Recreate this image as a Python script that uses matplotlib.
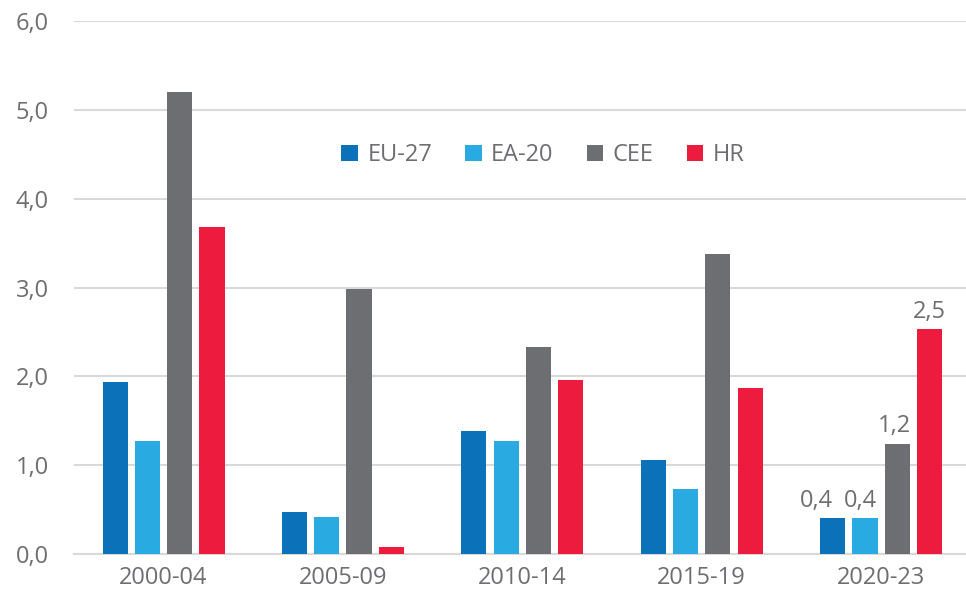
import matplotlib
matplotlib.use("Agg")
import matplotlib.pyplot as plt
import numpy as np

categories = ["2000-04", "2005-09", "2010-14", "2015-19", "2020-23"]
series_names = ["EU-27", "EA-20", "CEE", "HR"]
eu27 = [1.94, 0.47, 1.39, 1.06, 0.40]
ea20 = [1.27, 0.42, 1.27, 0.73, 0.40]
cee = [5.20, 2.98, 2.33, 3.38, 1.24]
hr = [3.68, 0.08, 1.96, 1.87, 2.53]
labels_last = ["0,4", "0,4", "1,2", "2,5"]
yticks = [0, 1, 2, 3, 4, 5, 6]
ytick_labels = ["0,0", "1,0", "2,0", "3,0", "4,0", "5,0", "6,0"]

colors = ["#0b72b9", "#29abe2", "#6d6e71", "#ed1c3e"]
text_color = "#6d6e71"
label_dx = [-12, -3, -2, 0]  # points, to avoid overlap of neighbouring labels
plt.rcParams['font.family'] = ['Open Sans', 'DejaVu Sans']
fs = 17

fig = plt.figure(figsize=(9.66, 6.0), dpi=100)
ax = fig.add_axes([0.0764, 0.0767, 0.9286, 0.888])

x = np.arange(len(categories))
width = 0.14
step = 0.18
data = [eu27, ea20, cee, hr]
for i, (vals, name, c) in enumerate(zip(data, series_names, colors)):
    offs = (i - 1.5) * step
    ax.bar(x + offs, vals, width, color=c, label=name, zorder=3)
    ax.annotate(labels_last[i], (x[-1] + offs, vals[-1]), xytext=(label_dx[i], 4),
                textcoords="offset points", ha="center", va="bottom",
                fontsize=fs, color=text_color)

ax.set_xlim(-0.5, len(categories) - 0.5)
ax.set_ylim(0, 6)
ax.set_yticks(yticks)
ax.set_yticklabels(ytick_labels)
ax.set_xticks(x)
ax.set_xticklabels(categories)
ax.tick_params(axis="both", length=0, labelsize=fs, colors=text_color)
ax.tick_params(axis="y", pad=18)
ax.tick_params(axis="x", pad=9)
ax.yaxis.grid(True, color="#d9d9d9", linewidth=1.5, zorder=0)
for s in ["top", "right", "left"]:
    ax.spines[s].set_visible(False)
ax.spines["bottom"].set_color("#d9d9d9")
ax.spines["bottom"].set_linewidth(1.5)

leg = ax.legend(loc="center", bbox_to_anchor=(0.523, 0.748), ncol=4, frameon=False,
                fontsize=fs, handlelength=0.7, handleheight=0.7, handletextpad=0.4,
                columnspacing=1.4, labelcolor=text_color)

fig.savefig("out.png", dpi=100)
